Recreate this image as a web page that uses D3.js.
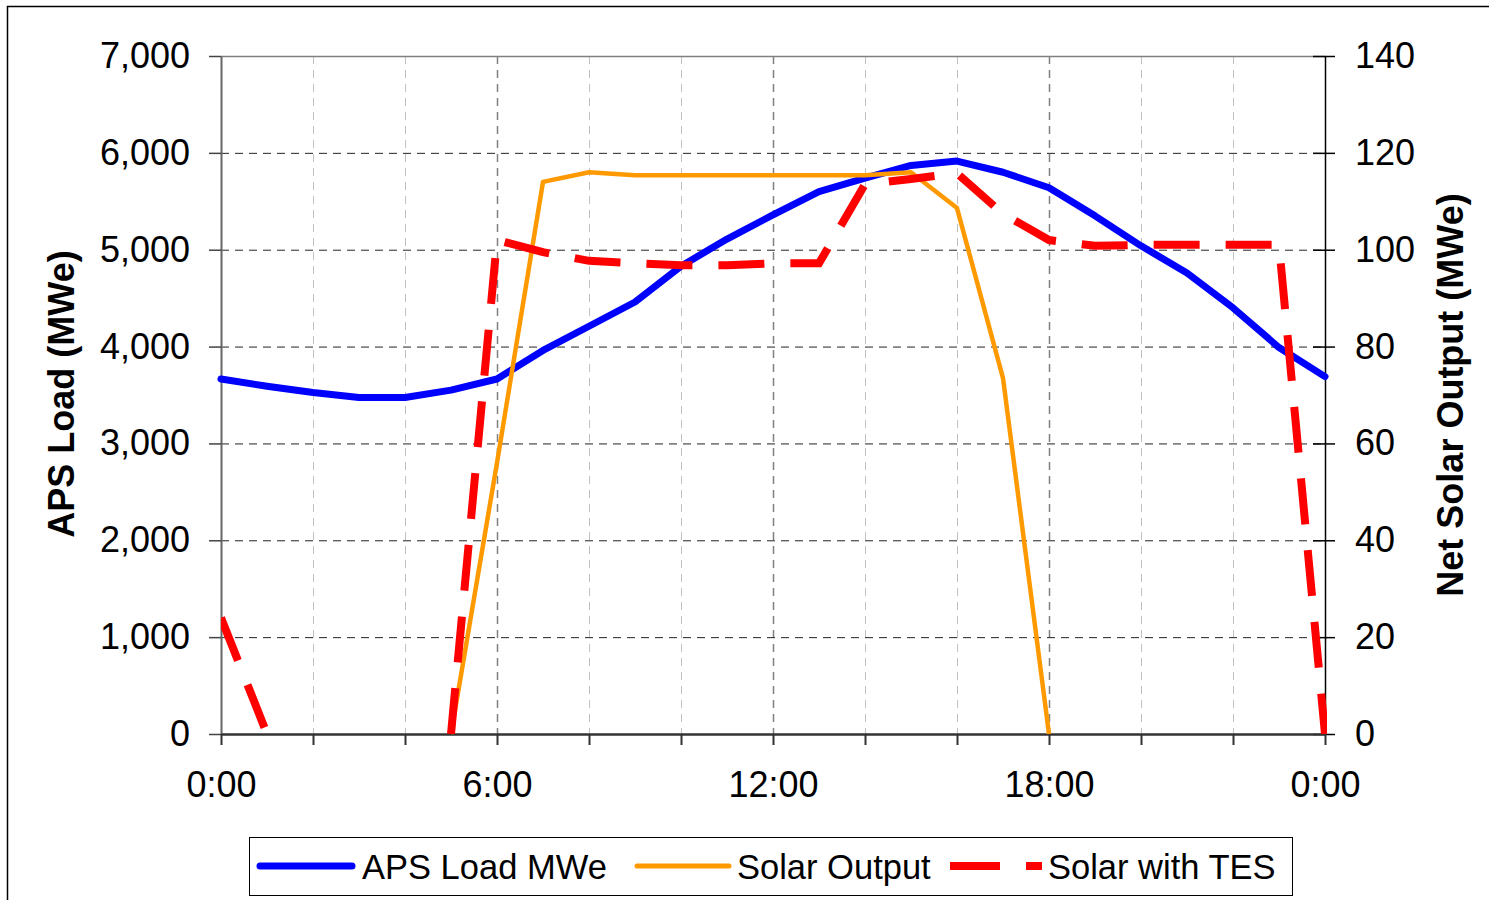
<!DOCTYPE html>
<html>
<head>
<meta charset="utf-8">
<script src="https://cdn.jsdelivr.net/npm/d3@7"></script>
<style>
body { margin: 0; background: #fff; }
svg text { font-family: Arial, "Liberation Sans", sans-serif; fill: #000; }
</style>
</head>
<body>
<svg id="chart" width="1489" height="900"></svg>
<script>
// hourly values
var hours = [0, 1, 2, 3, 4, 5, 6, 7, 8, 9, 10, 11, 12, 13, 14, 15, 16, 17, 18, 19, 20, 21, 22, 23, 24];
var apsLoad = [3665, 3590, 3525, 3475, 3475, 3550, 3665, 3960, 4210, 4460, 4830, 5110, 5360, 5600, 5740, 5870, 5915, 5800, 5640, 5350, 5040, 4760, 4400, 3990, 3690];
var solarOutput = [null, null, null, null, null, 0, 56, 114, 116, 115.4, 115.4, 115.4, 115.4, 115.4, 115.4, 116, 108.6, 73.5, 0, null, null, null, null, null, null];
var solarTES = [24, 0, null, null, null, 0, 102, 99.5, 97.7, 97.2, 96.8, 96.8, 97.2, 97.2, 113.5, 114.6, 115.8, 107.4, 102, 100.8, 101, 101, 101, 101, 0];

var leftTicks = [0, 1000, 2000, 3000, 4000, 5000, 6000, 7000];
var rightTicks = [0, 20, 40, 60, 80, 100, 120, 140];
var hourTicks = [0, 2, 4, 6, 8, 10, 12, 14, 16, 18, 20, 22, 24];
var labelTicks = [0, 6, 12, 18, 24];
var labelNames = ['0:00', '6:00', '12:00', '18:00', '0:00'];
var seriesNames = ['APS Load MWe', 'Solar Output', 'Solar with TES'];
var seriesColors = ['#0000ff', '#ff9900', '#ff0000'];

var svg = d3.select('#chart');
var plot = {left: 221, right: 1325, top: 56, bottom: 734};

var x = d3.scaleLinear().domain([0, 24]).range([plot.left, plot.right]);
var yLeft = d3.scaleLinear().domain([0, 7000]).range([plot.bottom, plot.top]);
var yRight = d3.scaleLinear().domain([0, 140]).range([plot.bottom, plot.top]);

//outer frame
svg.append('rect')
    .attr('x', 7.5).attr('y', 6.5)
    .attr('width', 1495).attr('height', 900)
    .attr('fill', 'none').attr('stroke', '#000').attr('stroke-width', 1.5);

//grid
var grid = svg.append('g');
grid.selectAll('.vgrid')
    .data(hourTicks.filter(function (h) { return h > 0 && h < 24; }))
    .enter().append('line')
    .attr('x1', function (d) { return x(d) + 0.5; })
    .attr('x2', function (d) { return x(d) + 0.5; })
    .attr('y1', plot.top).attr('y2', plot.bottom)
    .attr('stroke', function (d) { return d % 6 == 0 ? '#808080' : '#c0c0c0'; })
    .attr('stroke-width', function (d) { return d % 6 == 0 ? 1.5 : 1; })
    .attr('stroke-dasharray', '8,6');
grid.selectAll('.hgrid')
    .data(leftTicks.filter(function (v) { return v > 0 && v < 7000; }))
    .enter().append('line')
    .attr('x1', plot.left).attr('x2', plot.right)
    .attr('y1', function (d) { return yLeft(d) + 0.5; })
    .attr('y2', function (d) { return yLeft(d) + 0.5; })
    .attr('stroke', '#222')
    .attr('stroke-dasharray', '8,6');
//top edge of plot area
svg.append('line')
    .attr('x1', plot.left).attr('x2', plot.right)
    .attr('y1', plot.top + 0.5).attr('y2', plot.top + 0.5)
    .attr('stroke', '#808080').attr('stroke-width', 1.5);

//axes
var leftAxis = svg.append('g')
    .attr('transform', 'translate(' + plot.left + ',0)')
    .call(d3.axisLeft(yLeft).tickValues(leftTicks).tickSize(12).tickSizeOuter(0).tickPadding(19).tickFormat(d3.format(',')));
var rightAxis = svg.append('g')
    .attr('transform', 'translate(' + plot.right + ',0)')
    .call(d3.axisRight(yRight).tickValues(rightTicks).tickSize(10).tickSizeOuter(0).tickPadding(20));
rightAxis.selectAll('.tick line').attr('x1', -12);
var bottomAxis = svg.append('g')
    .attr('transform', 'translate(0,' + plot.bottom + ')')
    .call(d3.axisBottom(x).tickValues(hourTicks).tickSize(11).tickSizeOuter(0).tickPadding(26)
        .tickFormat(function (d) {
            var i = labelTicks.indexOf(d);
            return i < 0 ? '' : labelNames[i];
        }));

[leftAxis, rightAxis, bottomAxis].forEach(function (a) {
    a.selectAll('text').style('font-size', '36px').style('font-family', 'Arial, "Liberation Sans", sans-serif');
    a.selectAll('line').attr('stroke-width', 1.5);
});
leftAxis.select('.domain').attr('stroke', '#666').attr('stroke-width', 2);
leftAxis.selectAll('.tick line').attr('stroke', '#444');
bottomAxis.select('.domain').attr('stroke', '#333').attr('stroke-width', 2.5);
bottomAxis.selectAll('.tick line').attr('stroke', '#333').attr('stroke-width', 2);
rightAxis.select('.domain').attr('stroke', '#000').attr('stroke-width', 1.5);

//axis titles
svg.append('text')
    .attr('transform', 'translate(74,394) rotate(-90)')
    .attr('text-anchor', 'middle')
    .style('font-size', '36px').style('font-weight', 'bold')
    .text('APS Load (MWe)');
svg.append('text')
    .attr('transform', 'translate(1463,395) rotate(-90)')
    .attr('text-anchor', 'middle')
    .style('font-size', '36px').style('font-weight', 'bold')
    .text('Net Solar Output (MWe)');

//series
var lineFor = function (values, y) {
    return d3.line()
        .defined(function (d, i) { return values[i] !== null; })
        .x(function (d) { return x(d); })
        .y(function (d, i) { return y(values[i]); })(hours);
};

svg.append('path')
    .attr('d', lineFor(apsLoad, yLeft))
    .attr('fill', 'none').attr('stroke', seriesColors[0])
    .attr('stroke-width', 7).attr('stroke-linejoin', 'round').attr('stroke-linecap', 'round');
svg.append('path')
    .attr('d', lineFor(solarOutput, yRight))
    .attr('fill', 'none').attr('stroke', seriesColors[1])
    .attr('stroke-width', 4.5).attr('stroke-linejoin', 'round');

svg.append('clipPath').attr('id', 'plotClip')
    .append('rect')
    .attr('x', plot.left).attr('y', plot.top - 10)
    .attr('width', plot.right - plot.left + 2).attr('height', plot.bottom - plot.top + 10);
svg.append('path')
    .attr('d', lineFor(solarTES, yRight))
    .attr('clip-path', 'url(#plotClip)')
    .attr('fill', 'none').attr('stroke', seriesColors[2])
    .attr('stroke-width', 8).attr('stroke-dasharray', '46,26');

//legend
var legend = svg.append('g');
legend.append('rect')
    .attr('x', 249.5).attr('y', 837.5)
    .attr('width', 1043).attr('height', 58)
    .attr('fill', '#fff').attr('stroke', '#000').attr('stroke-width', 1);
var legendItems = [
    {sx: 260, ex: 352, tx: 362, width: 7, dash: null, cap: 'round'},
    {sx: 637, ex: 729, tx: 737, width: 5, dash: null, cap: 'round'},
    {sx: 950, ex: 1042, tx: 1048, width: 8, dash: '50,26', cap: 'butt'}
];
legendItems.forEach(function (item, i) {
    legend.append('line')
        .attr('x1', item.sx).attr('x2', item.ex)
        .attr('y1', 866).attr('y2', 866)
        .attr('stroke', seriesColors[i])
        .attr('stroke-width', item.width)
        .attr('stroke-linecap', item.cap)
        .attr('stroke-dasharray', item.dash);
    legend.append('text')
        .attr('x', item.tx).attr('y', 879)
        .style('font-size', '34.5px')
        .text(seriesNames[i]);
});
</script>
</body>
</html>
